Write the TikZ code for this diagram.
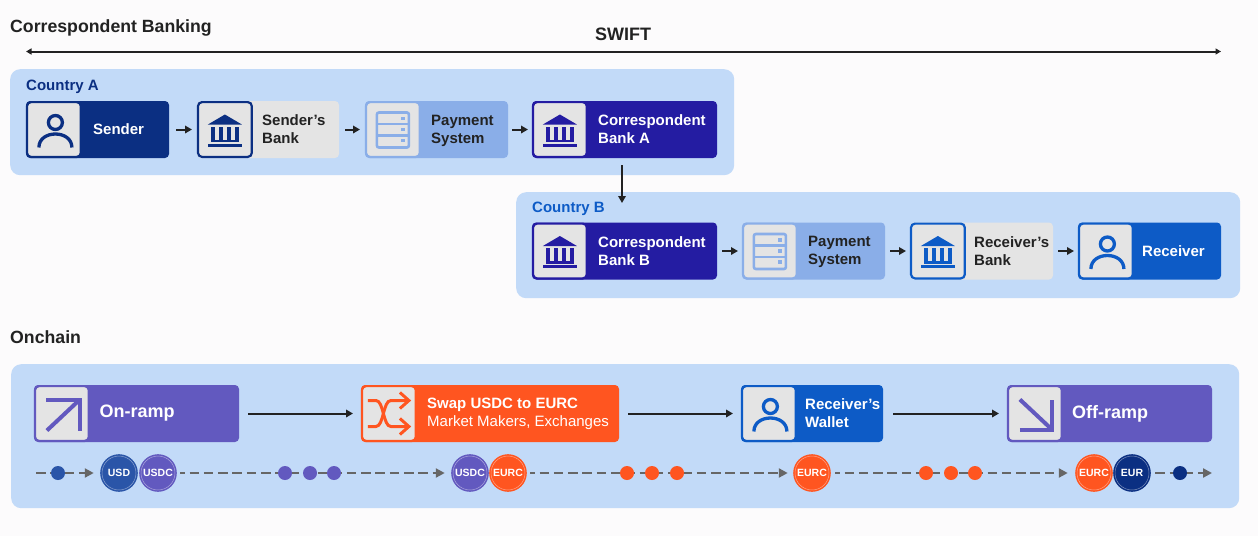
\documentclass[tikz,border=0pt]{standalone}
\usepackage{fontspec}
\setmainfont{Liberation Sans}
\usetikzlibrary{arrows.meta}
\definecolor{pagebg}{HTML}{FCFBFC}
\definecolor{panelblue}{HTML}{C2DAF8}
\definecolor{cardnavy}{HTML}{0B2F82}
\definecolor{cardgray}{HTML}{E4E4E4}
\definecolor{cardlight}{HTML}{8AAEE8}
\definecolor{cardindigo}{HTML}{241CA2}
\definecolor{cardblue}{HTML}{0D5BC6}
\definecolor{cardpurple}{HTML}{6259BF}
\definecolor{cardorange}{HTML}{FF5520}
\definecolor{coinblue}{HTML}{2A55A8}
\definecolor{inkdark}{HTML}{222222}
\definecolor{dashgray}{HTML}{666666}
\tikzset{
  panel/.style={rectangle,rounded corners=10pt,fill=panelblue,inner sep=0pt,anchor=north west},
  cardbox/.style={rectangle,rounded corners=4pt,fill=#1,minimum height=57pt,inner sep=0pt,outer sep=0pt,anchor=west},
  iconbox/.style={rectangle,rounded corners=4pt,fill=cardgray,draw=#1,line width=2.2pt,minimum width=53.8pt,minimum height=54.8pt,inner sep=0pt,outer sep=0pt,anchor=west},
  cardtext/.style={anchor=west,inner sep=0pt,align=left,font=\fontsize{15}{18}\selectfont\bfseries,text=#1},
  bigtext/.style={anchor=west,inner sep=0pt,text=white,font=\fontsize{18}{20}\selectfont\bfseries},
  heading/.style={anchor=west,inner sep=0pt,text=inkdark,font=\fontsize{17.7}{20}\selectfont\bfseries},
  flow/.style={-{Triangle[length=7pt,width=7.5pt]},line width=2pt,draw=inkdark},
  flowdash/.style={-{Triangle[length=9pt,width=9pt]},line width=2.6pt,draw=dashgray,dash pattern=on 9.5pt off 4.8pt},
  coin/.style={circle,fill=#1,draw=white!45!#1,line width=.5pt,minimum size=34pt,inner sep=0pt,
    preaction={draw=#1,line width=3.6pt},text=white,font=\fontsize{10.5}{12}\selectfont\bfseries},
  dot/.style={circle,fill=#1,minimum size=14pt,inner sep=0pt},
  personicon/.pic={
    \draw[#1,line width=3.3pt] (1.5,-7) circle (7);
    \draw[#1,line width=3.3pt] (-15,18) .. controls (-15,0) and (18,0) .. (18,18);
  },
  bankicon/.pic={
    \fill[#1] (-17,-5) -- (0,-15) -- (17,-5) -- cycle;
    \foreach \colx in {-12,-4,4,12}
      \fill[#1] (\colx-1.7,-3) rectangle (\colx+1.7,12);
    \fill[#1] (-14,10) rectangle (14,12.5);
    \fill[#1] (-17,14) rectangle (17,17);
  },
  servericon/.pic={
    \draw[#1,line width=2.6pt,rounded corners=2pt] (-16,-17) rectangle (16,18);
    \draw[#1,line width=2.6pt] (-16,-5.5) -- (16,-5.5) (-16,6) -- (16,6);
    \foreach \doty in {-11,0,11}
      \fill[#1] (8.5,\doty-1.7) rectangle (12,\doty+1.7);
  },
  rampupicon/.pic={
    \draw[#1,line width=4pt] (-15.5,-14) -- (18,-14) -- (18,17);
    \draw[#1,line width=4pt] (18,-14) -- (-15,17);
  },
  rampdownicon/.pic={
    \draw[#1,line width=4pt] (-15,16) -- (17,16) -- (17,-14);
    \draw[#1,line width=4pt] (17,16) -- (-15,-14);
  },
  swapicon/.pic={
    \draw[#1,line width=3pt] (-21,-13) -- (-13,-13) .. controls (-5,-13) and (-6,13) .. (2,13) -- (20,13);
    \draw[#1,line width=3pt] (-21,13) -- (-13,13) .. controls (-5,13) and (-6,-13) .. (2,-13) -- (20,-13);
    \draw[#1,line width=3pt] (11,-21) -- (20,-13) -- (11,-5);
    \draw[#1,line width=3pt] (11,5) -- (20,13) -- (11,21);
  }
}
\begin{document}
\begin{tikzpicture}[x=1pt,y=-1pt]
\useasboundingbox[fill=pagebg] (0,0) rectangle (1258,536);
\node[heading] (titlebank) at (10,27.5) {Correspondent Banking};
\node[heading] (titlechain) at (10,337.5) {Onchain};
\node[anchor=center,inner sep=0pt,text=inkdark,font=\fontsize{18}{20}\selectfont\bfseries] (swift) at (623,34.5) {SWIFT};
\coordinate (swiftl) at (26,51.5);
\coordinate (swiftr) at (1221,51.5);
\draw[{Triangle[length=5.5pt,width=6pt]}-{Triangle[length=5.5pt,width=6pt]},line width=2pt,draw=inkdark] (swiftl) -- (swiftr);
% panels
\node[panel,minimum width=724pt,minimum height=106pt] (countrya) at (10,69) {};
\node[panel,minimum width=724pt,minimum height=106pt] (countryb) at (516,192) {};
\node[panel,minimum width=1228pt,minimum height=144pt] (chain) at (11,364) {};
\node[cardtext=cardnavy] (labela) at (26,87) {Country A};
\node[cardtext=cardblue] (labelb) at (532,209) {Country B};
% country A
\node[cardbox=cardnavy,minimum width=143pt] (sender) at (26,129.5) {};
\node[iconbox=cardnavy] (sendericon) at (27,129.5) {};
\pic at (sendericon) {personicon=cardnavy};
\node[cardtext=white] (sendertext) at (93,129.5) {Sender};
\node[cardbox=cardgray,minimum width=142pt] (senderbank) at (197,129.5) {};
\node[iconbox=cardnavy] (senderbankicon) at (198,129.5) {};
\pic at (senderbankicon) {bankicon=cardnavy};
\node[cardtext=inkdark] (senderbanktext) at (262,129.5) {Sender’s\\Bank};
\node[cardbox=cardlight,minimum width=143pt] (paya) at (365,129.5) {};
\node[iconbox=cardlight] (payaicon) at (366,129.5) {};
\pic at (payaicon) {servericon=cardlight};
\node[cardtext=inkdark] (payatext) at (431,130.5) {Payment\\System};
\node[cardbox=cardindigo,minimum width=185pt] (corra) at (532,129.5) {};
\node[iconbox=cardindigo] (corraicon) at (533,129.5) {};
\pic at (corraicon) {bankicon=cardindigo};
\node[cardtext=white] (corratext) at (598,129.5) {Correspondent\\Bank A};
% country B
\node[cardbox=cardindigo,minimum width=185pt] (corrb) at (532,251) {};
\node[iconbox=cardindigo] (corrbicon) at (533,251) {};
\pic at (corrbicon) {bankicon=cardindigo};
\node[cardtext=white] (corrbtext) at (598,251) {Correspondent\\Bank B};
\node[cardbox=cardlight,minimum width=143pt] (payb) at (742,251) {};
\node[iconbox=cardlight] (paybicon) at (743,251) {};
\pic at (paybicon) {servericon=cardlight};
\node[cardtext=inkdark] (paybtext) at (808,252) {Payment\\System};
\node[cardbox=cardgray,minimum width=143pt] (receiverbank) at (910,251) {};
\node[iconbox=cardblue] (receiverbankicon) at (911,251) {};
\pic at (receiverbankicon) {bankicon=cardblue};
\node[cardtext=inkdark] (receiverbanktext) at (974,251) {Receiver’s\\Bank};
\node[cardbox=cardblue,minimum width=143pt] (receiver) at (1078,251) {};
\node[iconbox=cardblue] (receivericon) at (1079,251) {};
\pic at (receivericon) {personicon=cardblue};
\node[cardtext=white] (receivertext) at (1142,251) {Receiver};
\draw[flow,shorten <=7pt,shorten >=5pt] (sender.east) -- (senderbank.west);
\draw[flow,shorten <=6pt,shorten >=5pt] (senderbank.east) -- (paya.west);
\draw[flow,shorten <=4pt,shorten >=4pt] (paya.east) -- (corra.west);
\draw[flow,shorten <=5pt,shorten >=4pt] (corrb.east) -- (payb.west);
\draw[flow,shorten <=5pt,shorten >=4pt] (payb.east) -- (receiverbank.west);
\draw[flow,shorten <=5pt,shorten >=4pt] (receiverbank.east) -- (receiver.west);
\draw[flow,shorten <=7pt,shorten >=19.5pt] ([xshift=-2.5pt]corra.south) -- ([xshift=-2.5pt]corrb.north);
% onchain cards
\node[cardbox=cardpurple,minimum width=205pt] (onramp) at (34,413.5) {};
\node[iconbox=cardpurple] (onrampicon) at (35,413.5) {};
\pic at (onrampicon) {rampupicon=cardpurple};
\node[bigtext] (onramptext) at (99.5,413.5) {On-ramp};
\node[cardbox=cardorange,minimum width=258pt] (swap) at (361,413.5) {};
\node[iconbox=cardorange] (swapiconbox) at (362,413.5) {};
\pic at (swapiconbox) {swapicon=cardorange};
\node[cardtext=white] (swaptext) at (427,413.5) {Swap USDC to EURC\\\normalfont\fontsize{15}{18}\selectfont Market Makers, Exchanges};
\node[cardbox=cardblue,minimum width=142pt] (wallet) at (741,413.5) {};
\node[iconbox=cardblue] (walleticon) at (742,413.5) {};
\pic at (walleticon) {personicon=cardblue};
\node[cardtext=white] (wallettext) at (805,413.5) {Receiver’s\\Wallet};
\node[cardbox=cardpurple,minimum width=205pt] (offramp) at (1007,413.5) {};
\node[iconbox=cardpurple] (offrampicon) at (1008,413.5) {};
\pic at (offrampicon) {rampdownicon=cardpurple};
\node[bigtext] (offramptext) at (1072,413.5) {Off-ramp};
\draw[flow,shorten <=9pt,shorten >=8pt] (onramp.east) -- (swap.west);
\draw[flow,shorten <=9pt,shorten >=8pt] (swap.east) -- (wallet.west);
\draw[flow,shorten <=10pt,shorten >=8pt] (wallet.east) -- (offramp.west);
% coins
\coordinate (dashstart) at (36,473);
\coordinate (dashend) at (1212,473);
\node[coin=coinblue] (usd) at (119,473) {USD};
\node[coin=cardpurple] (usdca) at (158,473) {USDC};
\node[coin=cardpurple] (usdcb) at (470,473) {USDC};
\node[coin=cardorange] (eurca) at (508,473) {EURC};
\node[coin=cardorange] (eurcb) at (812,473) {EURC};
\node[coin=cardorange] (eurcc) at (1094,473) {EURC};
\node[coin=cardnavy] (eur) at (1132,473) {EUR};
\draw[flowdash,shorten >=8pt] (dashstart) -- (usd.west);
\draw[flowdash,dash phase=5pt,shorten <=5pt,shorten >=8pt] (usdca.east) -- (usdcb.west);
\draw[flowdash,dash phase=5pt,shorten <=5pt,shorten >=7pt] (eurca.east) -- (eurcb.west);
\draw[flowdash,dash phase=5pt,shorten <=6pt,shorten >=9pt] (eurcb.east) -- (eurcc.west);
\draw[flowdash,shorten <=6pt] (eur.east) -- (dashend);
\node[dot=coinblue] (dota) at (58,473) {};
\node[dot=cardpurple] (dotb) at (285,473) {};
\node[dot=cardpurple] (dotc) at (310,473) {};
\node[dot=cardpurple] (dotd) at (334,473) {};
\node[dot=cardorange] (dote) at (627,473) {};
\node[dot=cardorange] (dotf) at (652,473) {};
\node[dot=cardorange] (dotg) at (677,473) {};
\node[dot=cardorange] (doth) at (926,473) {};
\node[dot=cardorange] (doti) at (951,473) {};
\node[dot=cardorange] (dotj) at (975,473) {};
\node[dot=cardnavy] (dotk) at (1180,473) {};
\end{tikzpicture}
\end{document}
